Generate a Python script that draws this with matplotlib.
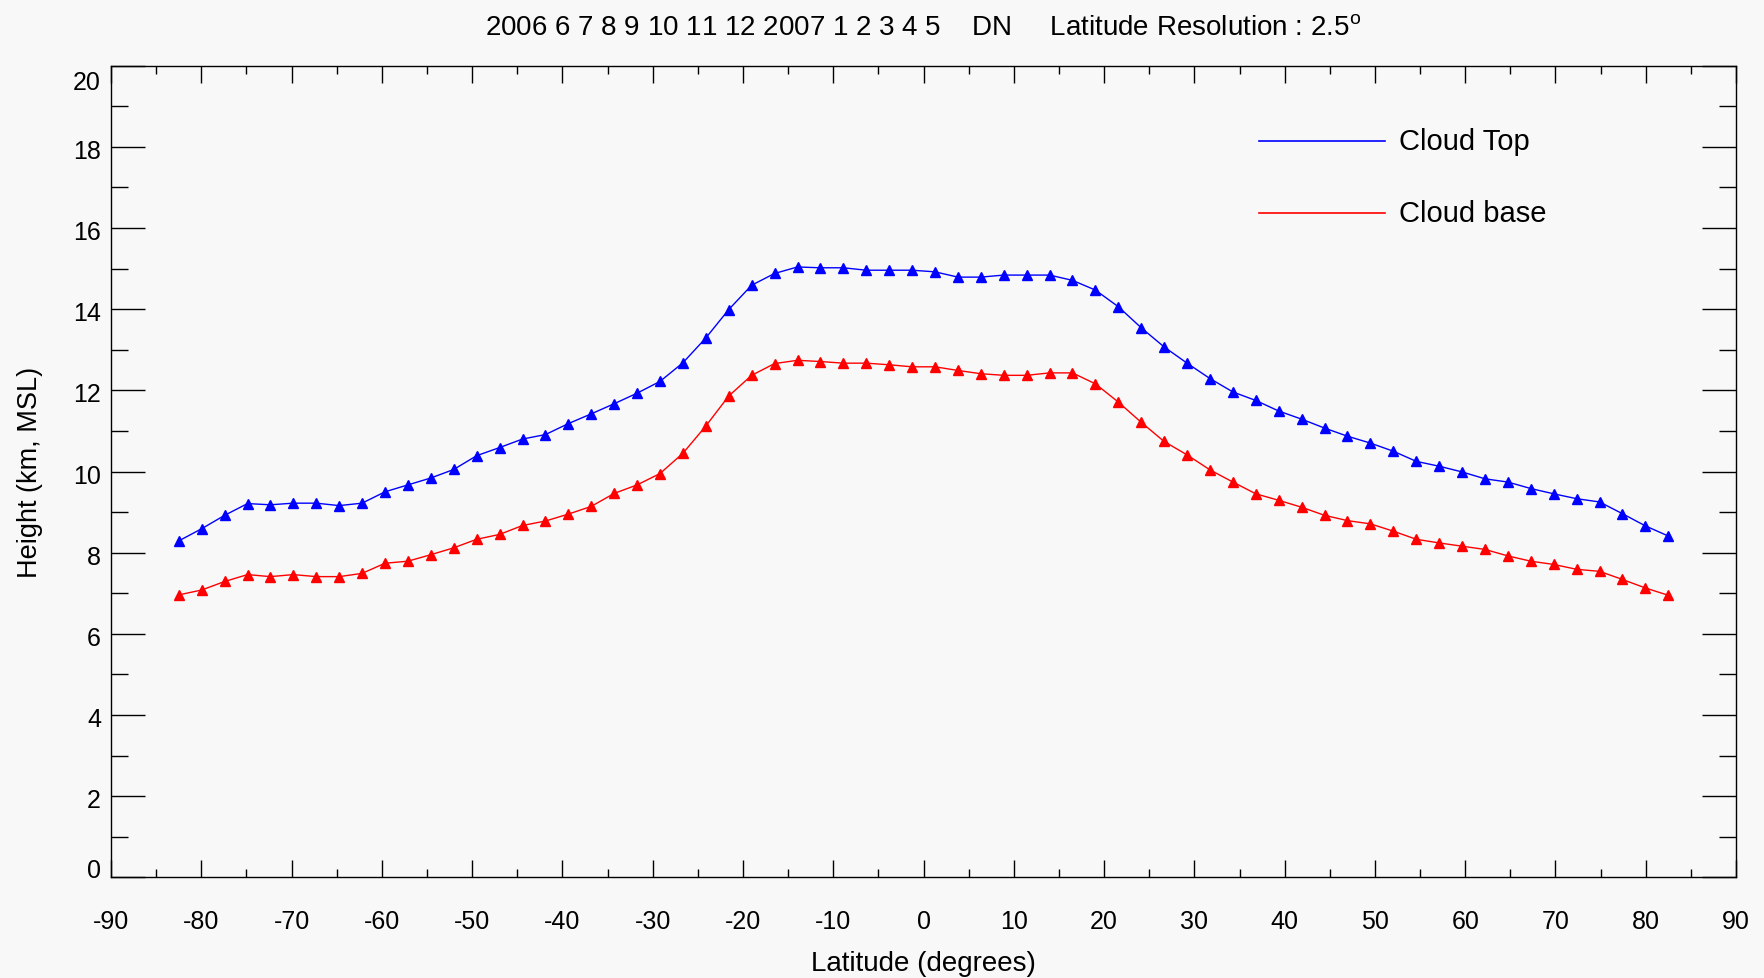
import numpy as np
import matplotlib
matplotlib.use("Agg")
from matplotlib import pyplot as plt
from matplotlib.transforms import ScaledTranslation

plt.rcParams['font.family'] = ['Liberation Sans', 'DejaVu Sans']
plt.rcParams['mathtext.fontset'] = 'custom'
plt.rcParams['mathtext.rm'] = 'Liberation Sans'
plt.rcParams['axes.unicode_minus'] = False

# latitude bin centres (degrees)
lat = [-82.50, -79.96, -77.42, -74.88, -72.35, -69.81, -67.27, -64.73, -62.19, -59.65,
       -57.12, -54.58, -52.04, -49.50, -46.96, -44.42, -41.88, -39.35, -36.81, -34.27,
       -31.73, -29.19, -26.65, -24.12, -21.58, -19.04, -16.50, -13.96, -11.42, -8.88,
       -6.35, -3.81, -1.27, 1.27, 3.81, 6.35, 8.88, 11.42, 13.96, 16.50,
       19.04, 21.58, 24.12, 26.65, 29.19, 31.73, 34.27, 36.81, 39.35, 41.88,
       44.42, 46.96, 49.50, 52.04, 54.58, 57.12, 59.65, 62.19, 64.73, 67.27,
       69.81, 72.35, 74.88, 77.42, 79.96, 82.50]

cloud_top = [8.29, 8.59, 8.92, 9.21, 9.18, 9.22, 9.22, 9.16, 9.22, 9.50,
             9.67, 9.84, 10.05, 10.39, 10.59, 10.80, 10.91, 11.18, 11.42, 11.67,
             11.93, 12.22, 12.68, 13.29, 13.99, 14.59, 14.88, 15.04, 15.02, 15.02,
             14.96, 14.96, 14.96, 14.92, 14.79, 14.79, 14.84, 14.84, 14.84, 14.71,
             14.47, 14.06, 13.54, 13.07, 12.67, 12.29, 11.96, 11.75, 11.49, 11.29,
             11.07, 10.87, 10.70, 10.50, 10.25, 10.13, 9.99, 9.82, 9.74, 9.58,
             9.45, 9.33, 9.25, 8.96, 8.66, 8.41]

cloud_base = [6.96, 7.08, 7.29, 7.46, 7.41, 7.46, 7.41, 7.41, 7.49, 7.74,
              7.79, 7.95, 8.12, 8.33, 8.45, 8.67, 8.78, 8.95, 9.14, 9.46,
              9.67, 9.95, 10.45, 11.12, 11.86, 12.37, 12.66, 12.74, 12.71, 12.67,
              12.67, 12.63, 12.58, 12.58, 12.49, 12.41, 12.37, 12.37, 12.43, 12.43,
              12.16, 11.71, 11.21, 10.74, 10.41, 10.04, 9.74, 9.45, 9.29, 9.12,
              8.92, 8.79, 8.71, 8.53, 8.33, 8.24, 8.16, 8.08, 7.92, 7.79,
              7.71, 7.59, 7.54, 7.34, 7.13, 6.95]

x_major = list(range(-90, 91, 10))
x_minor = list(range(-85, 90, 10))
y_major = list(range(0, 21, 2))
y_minor = list(range(1, 20, 2))

bg = '#f8f8f8'
fig = plt.figure(figsize=(17.65, 9.79), dpi=100, facecolor=bg)
ax = fig.add_axes([0.0629, 0.1028, 0.9207, 0.8291], facecolor=bg)

ax.plot(lat, cloud_top, color='#0000ff', lw=1.0, marker='^', ms=6.5, mec='#0000ff')
ax.plot(lat, cloud_base, color='#ff0000', lw=1.0, marker='^', ms=6.5, mec='#ff0000')

ax.set_xlim(-90, 90)
ax.set_ylim(0, 20)
ax.set_xticks(x_major)
ax.set_xticks(x_minor, minor=True)
ax.set_yticks(y_major)
ax.set_yticks(y_minor, minor=True)

for s in ax.spines.values():
    s.set_linewidth(1.0)
    s.set_color('black')

ax.tick_params(axis='both', which='both', direction='in', top=True, right=True,
               width=1.0, color='black')
ax.tick_params(axis='x', which='major', length=12.2, labelsize=18, pad=23)
ax.tick_params(axis='x', which='minor', length=6.1)
ax.tick_params(axis='y', which='major', length=24.5, labelleft=False)
ax.tick_params(axis='y', which='minor', length=12.2)

# y labels drawn by hand so the end labels can sit inside the axis range
ytrans = ax.get_yaxis_transform()
for v in y_major:
    dy = -4
    if v == y_major[-1]:
        dy = -16
    elif v == y_major[0]:
        dy = 7
    ax.text(0, v, str(v), fontsize=18, ha='right', va='center',
            transform=ytrans + ScaledTranslation(-0.10, dy / 100, fig.dpi_scale_trans))

ax.set_xlabel('Latitude (degrees)', fontsize=20, labelpad=12)
ax.set_ylabel('Height (km, MSL)', fontsize=19.5)
ax.yaxis.set_label_coords(-0.042, 0.5)
fig.text(0.523, 0.963, '2006 6 7 8 9 10 11 12 2007 1 2 3 4 5    DN     '
         'Latitude Resolution : 2.5$^\\mathrm{o}$',
         fontsize=20, ha='center', va='baseline')

# legend: short line plus label, placed in axes coordinates
for yy, col, name in [(0.907, '#0000ff', 'Cloud Top'), (0.819, '#ff0000', 'Cloud base')]:
    ax.plot([0.7067, 0.7837], [yy, yy], color=col, lw=1.2, transform=ax.transAxes)
    ax.text(0.7925, yy, name, fontsize=21, ha='left', va='center', transform=ax.transAxes)

fig.savefig('out.png', dpi=100, facecolor=bg)
